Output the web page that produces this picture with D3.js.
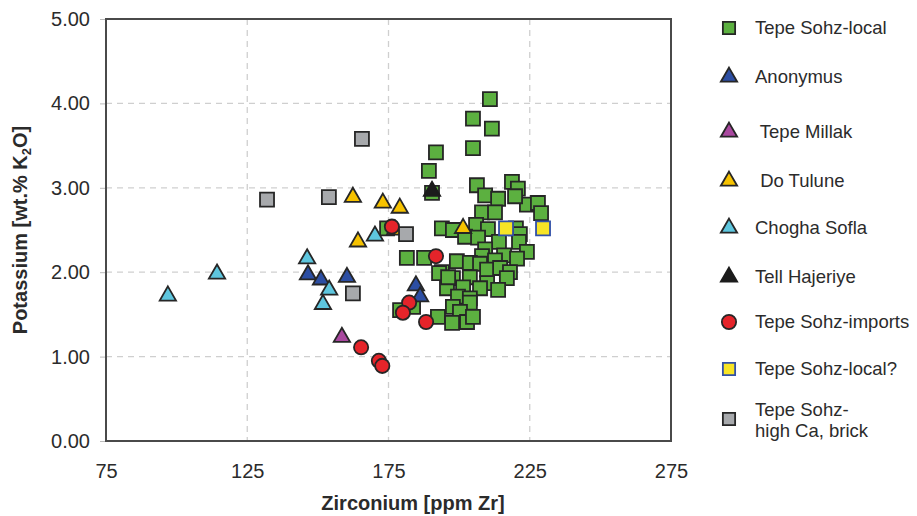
<!DOCTYPE html>
<html>
<head>
<meta charset="utf-8">
<script src="https://cdn.jsdelivr.net/npm/d3@7"></script>
<style>
  body { margin: 0; background: #fff; }
  svg text { font-family: Arial, "Liberation Sans", sans-serif; fill: #2b2b2b; }
</style>
</head>
<body>
<svg width="917" height="516"></svg>
<script>
// values, [Zr ppm, K2O wt.%]
var sohzLocal = [
  [210.9,4.05],[204.9,3.82],[211.6,3.70],[204.9,3.47],[191.8,3.42],[189.3,3.20],
  [206.3,3.03],[218.7,3.07],[220.8,2.99],[209.2,2.91],[213.8,2.87],[224.0,2.80],
  [227.9,2.82],[229.0,2.70],[208.1,2.71],[212.7,2.71],[219.8,2.90],[193.9,2.52],
  [197.8,2.50],[206.0,2.56],[210.2,2.51],[220.1,2.52],[221.5,2.45],[202.1,2.42],
  [206.7,2.41],[214.1,2.36],[221.2,2.36],[209.2,2.27],[224.0,2.24],[208.1,2.19],
  [215.9,2.20],[220.5,2.16],[199.2,2.13],[203.8,2.11],[207.4,2.10],[212.7,2.14],
  [181.5,2.17],[187.6,2.17],[193.9,2.00],[209.9,2.03],[214.5,2.05],[218.0,2.00],
  [197.8,1.93],[203.8,1.94],[209.9,1.87],[216.9,1.93],[195.7,1.81],[201.4,1.82],
  [207.4,1.81],[213.8,1.79],[199.6,1.71],[203.8,1.69],[197.8,1.59],[203.8,1.64],
  [200.3,1.53],[192.5,1.47],[197.5,1.40],[202.8,1.41],[204.9,1.47],[183.7,1.59],
  [174.5,2.52],[190.4,2.94],[192.9,1.99],[196.1,1.94],[179.1,1.55]
];
var anonymus = [[146.5,1.97],[151.1,1.91],[160.3,1.94],[184.7,1.84],[186.2,1.71]];
var tepeMillak = [[158.5,1.23]];
var doTulune = [[162.4,2.89],[173.0,2.82],[179.0,2.76],[164.2,2.36],[177.3,2.50],[201.4,2.52]];
var choghaSofla = [[96.9,1.72],[114.3,1.98],[146.2,2.16],[154.0,1.79],[151.8,1.62],[170.2,2.43]];
var tellHajeriye = [[190.4,2.96]];
var sohzImports = [[176.2,2.54],[191.8,2.19],[182.3,1.64],[180.1,1.52],[188.3,1.41],
  [165.3,1.11],[171.6,0.95],[172.8,0.89]];
var sohzLocalQ = [[216.6,2.52],[229.7,2.52]];
var sohzHighCa = [[132.0,2.86],[153.9,2.89],[165.6,3.58],[162.4,1.75],[181.2,2.45]];

var xTicks = [75, 125, 175, 225, 275];
var yTicks = [0, 1, 2, 3, 4, 5];

var seriesNames = ["Tepe Sohz-local", "Anonymus", " Tepe Millak", " Do Tulune", "Chogha Sofla",
  "Tell Hajeriye", "Tepe Sohz-imports", "Tepe Sohz-local?", "Tepe Sohz-|high Ca, brick"];
var seriesData = [sohzLocal, anonymus, tepeMillak, doTulune, choghaSofla,
  tellHajeriye, sohzImports, sohzLocalQ, sohzHighCa];

// marker styles
var styles = [
  {shape: d3.symbolSquare, size: 196, fill: "#5cb040", stroke: "#262626"},
  {shape: d3.symbolTriangle, size: 115, fill: "#2c4ea3", stroke: "#262626"},
  {shape: d3.symbolTriangle, size: 115, fill: "#a9489f", stroke: "#262626"},
  {shape: d3.symbolTriangle, size: 115, fill: "#f6c200", stroke: "#262626"},
  {shape: d3.symbolTriangle, size: 115, fill: "#5ec6de", stroke: "#262626"},
  {shape: d3.symbolTriangle, size: 115, fill: "#1c1c1c", stroke: "#1c1c1c"},
  {shape: d3.symbolCircle, size: 160, fill: "#e5242a", stroke: "#262626"},
  {shape: d3.symbolSquare, size: 196, fill: "#f7e426", stroke: "#3150a8"},
  {shape: d3.symbolSquare, size: 196, fill: "#a7a9ac", stroke: "#262626"}
];

var svg = d3.select("svg");
var plotL = 106, plotR = 671, plotT = 19, plotB = 441;

var x = d3.scaleLinear().domain([75, 275]).range([plotL, plotR]);
var y = d3.scaleLinear().domain([0, 5]).range([plotB, plotT]);

// grid
svg.append("g").selectAll("line")
  .data(xTicks.slice(1, -1)).enter().append("line")
  .attr("x1", d => x(d)).attr("x2", d => x(d))
  .attr("y1", plotT).attr("y2", plotB)
  .attr("stroke", "#cfcfcf").attr("stroke-width", 1.3).attr("stroke-dasharray", "6,5");
svg.append("g").selectAll("line")
  .data(yTicks.slice(1, -1)).enter().append("line")
  .attr("y1", d => y(d)).attr("y2", d => y(d))
  .attr("x1", plotL).attr("x2", plotR)
  .attr("stroke", "#cfcfcf").attr("stroke-width", 1.3).attr("stroke-dasharray", "6,5");

// y axis (ticks + labels)
var yAxis = svg.append("g").attr("transform", `translate(${plotL},0)`)
  .call(d3.axisLeft(y).tickValues(yTicks).tickFormat(d3.format(".2f")).tickSize(6).tickPadding(10));
yAxis.select(".domain").remove();
yAxis.selectAll("line").attr("stroke", "#bbb");
yAxis.selectAll("text").attr("font-size", 20).attr("fill", "#2b2b2b")
  .attr("font-family", "Arial, 'Liberation Sans', sans-serif");

// x axis labels
var xAxis = svg.append("g").attr("transform", `translate(0,${plotB})`)
  .call(d3.axisBottom(x).tickValues(xTicks).tickSize(0).tickPadding(23));
xAxis.select(".domain").remove();
xAxis.selectAll("text").attr("font-size", 20).attr("fill", "#2b2b2b")
  .attr("font-family", "Arial, 'Liberation Sans', sans-serif");

// frame
svg.append("rect").attr("x", plotL).attr("y", plotT)
  .attr("width", plotR - plotL).attr("height", plotB - plotT)
  .attr("fill", "none").attr("stroke", "#4a4a4a").attr("stroke-width", 2);

// points, in legend order
seriesData.forEach(function (data, i) {
  var st = styles[i];
  svg.append("g").selectAll("path")
    .data(data).enter().append("path")
    .attr("d", d3.symbol().type(st.shape).size(st.size))
    .attr("transform", d => `translate(${x(d[0])},${y(d[1])})`)
    .attr("fill", st.fill)
    .attr("stroke", st.stroke)
    .attr("stroke-width", 1.8);
});

// axis titles
svg.append("text").attr("x", 413).attr("y", 510)
  .attr("text-anchor", "middle").attr("font-size", 20).attr("font-weight", "bold")
  .text("Zirconium [ppm Zr]");

var yt = svg.append("text").attr("transform", "translate(27,230) rotate(-90)")
  .attr("text-anchor", "middle").attr("font-size", 20).attr("font-weight", "bold");
yt.append("tspan").text("Potassium [wt.% K");
yt.append("tspan").attr("font-size", 13).attr("dy", 4).text("2");
yt.append("tspan").attr("dy", -4).text("O]");

// legend
var legendY = [28, 77, 132, 181, 228, 277, 322, 369, 419];
var legend = svg.append("g");
seriesNames.forEach(function (name, i) {
  var st = styles[i];
  legend.append("path")
    .attr("d", d3.symbol().type(st.shape).size(st.shape === d3.symbolSquare ? 150 : st.size))
    .attr("transform", `translate(729,${legendY[i]})`)
    .attr("fill", st.fill).attr("stroke", st.stroke).attr("stroke-width", 1.8);
  var lines = name.split("|");
  var t = legend.append("text").attr("x", 755).attr("font-size", 18.5)
    .attr("xml:space", "preserve");
  if (lines.length === 1) {
    t.attr("y", legendY[i] + 6).text(name);
  } else {
    t.attr("y", legendY[i] - 3).text(lines[0]);
    legend.append("text").attr("x", 755).attr("y", legendY[i] + 18)
      .attr("font-size", 18.5).text(lines[1]);
  }
});
</script>
</body>
</html>
